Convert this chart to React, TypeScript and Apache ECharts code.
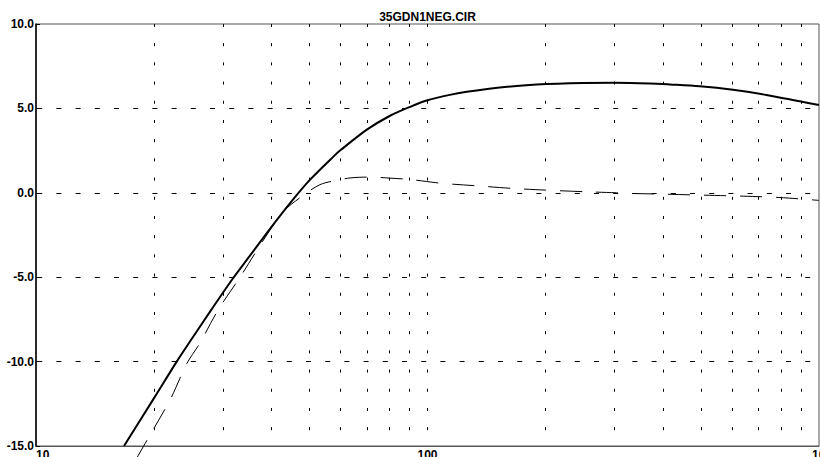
import React, { useEffect, useRef } from "react";
import * as echarts from "echarts";

const TITLE = "35GDN1NEG.CIR";

const solidFreq = [16.78, 20, 22.88, 25, 28, 31.9, 35, 40, 45, 50, 57.4, 60, 70, 80, 90, 100, 114, 126, 153, 190, 250, 300, 370, 416, 496, 603, 734, 893, 1000];
const solidDb = [-15, -12.18, -10.0, -8.65, -6.95, -5.05, -3.8, -2.0, -0.49, 0.75, 2.13, 2.53, 3.74, 4.55, 5.08, 5.48, 5.8, 5.98, 6.24, 6.42, 6.51, 6.52, 6.48, 6.42, 6.31, 6.1, 5.8, 5.42, 5.2];

const dashFreq = [18.0, 19.55, 22.0, 24.3, 26.2, 29.2, 33.2, 38.1, 42.8, 47.2, 53.1, 59.8, 63.4, 67.2, 72, 80, 90, 105, 110, 136, 165, 200, 255, 304, 320, 400, 506, 640, 795, 1000];
const dashDb = [-15.8, -14.35, -12.27, -10.1, -8.92, -6.93, -5.0, -2.8, -1.12, -0.3, 0.48, 0.78, 0.88, 0.92, 0.93, 0.87, 0.79, 0.6, 0.55, 0.4, 0.26, 0.16, 0.06, 0.0, -0.03, -0.08, -0.14, -0.2, -0.28, -0.45];

const xMin = 10;
const xMax = 1000;
const yMin = -15;
const yMax = 10;
const yStep = 5;
const xTickLabels = ["10", "100", "1000"];
const gridFreqs = [20, 30, 40, 50, 60, 70, 80, 90, 100, 200, 300, 400, 500, 600, 700, 800, 900];
const gridLevels = [5, 0, -5, -10];

const FONT = "'Liberation Sans', Arial, sans-serif";

export default function App() {
  const ref = useRef<HTMLDivElement>(null);

  useEffect(() => {
    document.body.style.margin = "0";
    if (!ref.current) return;
    const chart = echarts.init(ref.current, null, { renderer: "svg" });

    const solid = solidFreq.map((f, i) => [f, solidDb[i]]);
    const dashed = dashFreq.map((f, i) => [f, dashDb[i]]);

    const vLines = gridFreqs.map((f) => [
      { coord: [f, yMax] },
      { coord: [f, yMin] },
    ]);
    const hLines = gridLevels.map((v) => [
      { coord: [xMin, v] },
      { coord: [xMax, v] },
    ]);

    chart.setOption({
      animation: false,
      backgroundColor: "#ffffff",
      title: {
        text: TITLE,
        left: 427.5,
        top: 11,
        padding: 0,
        textAlign: "center",
        textStyle: { fontFamily: FONT, fontSize: 12, fontWeight: "bold", color: "#000" },
      },
      grid: {
        left: 36,
        right: 1,
        top: 24,
        bottom: 11,
        containLabel: false,
        outerBoundsMode: "none",
        show: true,
        borderColor: "#555",
        borderWidth: 1,
        backgroundColor: "transparent",
      },
      xAxis: {
        type: "log",
        logBase: 10,
        min: xMin,
        max: xMax,
        axisLine: { show: true, onZero: false, lineStyle: { color: "#555", width: 1 } },
        axisTick: { show: false },
        splitLine: { show: false },
        minorTick: { show: false },
        axisLabel: {
          margin: 3,
          color: "#000",
          fontFamily: FONT,
          fontSize: 12,
          fontWeight: "bold",
          alignMinLabel: "left",
          formatter: (v: number) => {
            const idx = Math.round(Math.log10(v)) - 1;
            const t = xTickLabels[idx] ?? String(v);
            return v >= xMax ? `{m|${t}}` : t;
          },
          rich: {
            m: {
              width: 14,
              align: "left",
              color: "#000",
              fontFamily: FONT,
              fontSize: 12,
              fontWeight: "bold",
            },
          },
        },
      },
      yAxis: {
        type: "value",
        min: yMin,
        max: yMax,
        interval: yStep,
        axisLine: { show: true, lineStyle: { color: "#000", width: 1.5 } },
        axisTick: { show: true, inside: true, length: 4, lineStyle: { color: "#000", width: 1 } },
        splitLine: { show: false },
        axisLabel: {
          margin: 2,
          color: "#000",
          fontFamily: FONT,
          fontSize: 12,
          fontWeight: "bold",
          formatter: (v: number) => v.toFixed(1),
        },
      },
      series: [
        {
          type: "line",
          data: [],
          z: 1,
          silent: true,
          markLine: {
            silent: true,
            symbol: ["none", "none"],
            label: { show: false },
            lineStyle: { color: "#000", width: 1, type: [3, 16.2], dashOffset: 0 },
            data: vLines,
          },
        },
        {
          type: "line",
          data: [],
          z: 1,
          silent: true,
          markLine: {
            silent: true,
            symbol: ["none", "none"],
            label: { show: false },
            lineStyle: { color: "#000", width: 1, type: [5, 14.2], dashOffset: 17.7 },
            data: hLines,
          },
        },
        {
          type: "line",
          data: dashed,
          z: 3,
          clip: false,
          smooth: 0.3,
          showSymbol: false,
          lineStyle: { color: "#000", width: 1, type: [22, 14] },
        },
        {
          type: "line",
          data: solid,
          z: 4,
          smooth: 0.3,
          showSymbol: false,
          lineStyle: { color: "#000", width: 2 },
        },
      ],
    });

    return () => {
      chart.dispose();
    };
  }, []);

  return (
    <div
      ref={ref}
      style={{ position: "absolute", left: 0, top: 0, width: 820, height: 457 }}
    />
  );
}
